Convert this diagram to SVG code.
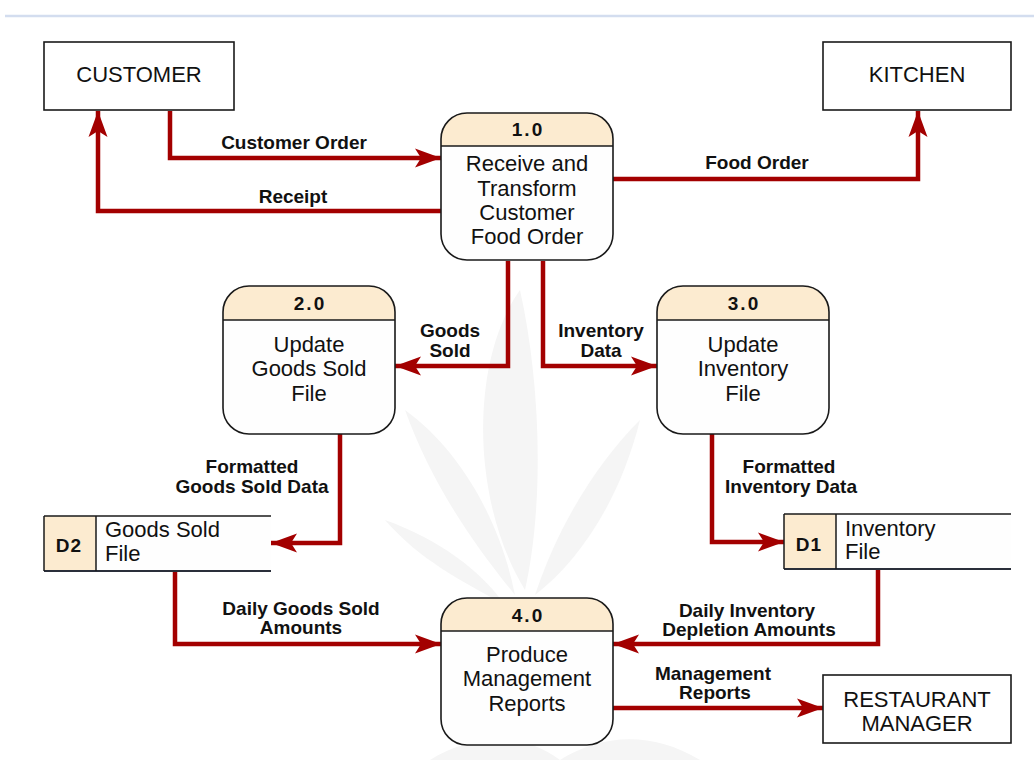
<svg xmlns="http://www.w3.org/2000/svg" width="1034" height="774" viewBox="0 0 1034 774">
<defs>
<style>
.ent{fill:#ffffff;stroke:#1a1a1a;stroke-width:1.6}
.body{fill:#fefefe}
.hdr{fill:#fcebd0}
.outline{fill:none;stroke:#1a1a1a;stroke-width:1.6}
.t{font-family:"Liberation Sans",Arial,sans-serif;font-size:22px;fill:#111}
.num{font-family:"Liberation Sans",Arial,sans-serif;font-size:19px;font-weight:bold;fill:#111;letter-spacing:2px}
.lbl{font-family:"Liberation Sans",Arial,sans-serif;font-size:19px;font-weight:bold;fill:#111;text-anchor:middle}
.c{text-anchor:middle}
.flow{fill:none;stroke:#a30000;stroke-width:4.5;marker-end:url(#ah)}
.leaf{fill:#f5f5f5}
</style>
<marker id="ah" markerUnits="userSpaceOnUse" markerWidth="32" markerHeight="24" refX="28" refY="12" orient="auto">
<path d="M28,12 L2,2.5 L8,12 L2,21.5 Z" fill="#a30000"/>
</marker>
</defs>
<rect width="1034" height="774" fill="#ffffff"/>
<line x1="5" y1="16" x2="1034" y2="16" stroke="#d3ddef" stroke-width="2.5"/>

<g id="watermark">
<path class="leaf" d="M525,590 C470,500 470,360 520,290 C540,380 545,500 525,590 Z"/>
<path class="leaf" d="M515,595 C470,540 430,480 405,410 C460,450 500,520 515,595 Z"/>
<path class="leaf" d="M535,595 C560,520 600,460 640,420 C620,500 580,560 535,595 Z"/>
<path class="leaf" d="M505,605 C460,580 420,560 385,520 C440,540 480,570 505,605 Z"/>
<path class="leaf" d="M430,760 C470,735 520,730 560,760 Z"/>
<path class="leaf" d="M560,760 C600,735 650,730 700,760 Z"/>
</g>

<g id="connectors">
<path class="flow" d="M170,111 V158 H441"/>
<path class="flow" d="M441,211 H98 V111"/>
<path class="flow" d="M613,179 H918 V111"/>
<path class="flow" d="M508,261 V366 H395"/>
<path class="flow" d="M543,261 V366 H657"/>
<path class="flow" d="M340,434 V543 H271"/>
<path class="flow" d="M712,434 V542 H784"/>
<path class="flow" d="M175,571 V644 H441"/>
<path class="flow" d="M878,569 V644 H613"/>
<path class="flow" d="M613,708 H823"/>
<text class="lbl" x="294" y="149">Customer Order</text>
<text class="lbl" x="293" y="203">Receipt</text>
<text class="lbl" x="757" y="169">Food Order</text>
<text class="lbl" x="450" y="337">Goods</text>
<text class="lbl" x="450" y="357">Sold</text>
<text class="lbl" x="601" y="337">Inventory</text>
<text class="lbl" x="601" y="357">Data</text>
<text class="lbl" x="252" y="473">Formatted</text>
<text class="lbl" x="252" y="493">Goods Sold Data</text>
<text class="lbl" x="789" y="473">Formatted</text>
<text class="lbl" x="791" y="493">Inventory Data</text>
<text class="lbl" x="301" y="615">Daily Goods Sold</text>
<text class="lbl" x="301" y="634">Amounts</text>
<text class="lbl" x="747" y="617">Daily Inventory</text>
<text class="lbl" x="749" y="636">Depletion Amounts</text>
<text class="lbl" x="713" y="680">Management</text>
<text class="lbl" x="715" y="699">Reports</text>
</g>

<g id="customer">
<rect class="ent" x="44" y="42" width="190" height="68"/>
<text class="t c" x="139" y="82">CUSTOMER</text>
</g>

<g id="kitchen">
<rect class="ent" x="823" y="42" width="188" height="68"/>
<text class="t c" x="917" y="82">KITCHEN</text>
</g>

<g id="restaurant-manager">
<rect class="ent" x="823" y="675" width="188" height="68"/>
<text class="t c" x="917" y="707">RESTAURANT</text>
<text class="t c" x="917" y="731">MANAGER</text>
</g>

<g id="p1">
<rect class="body" x="441" y="113" width="172" height="147" rx="26"/>
<path class="hdr" d="M441,146 V139 A26,26 0 0 1 467,113 H587 A26,26 0 0 1 613,139 V146 Z"/>
<line x1="441" y1="146" x2="613" y2="146" stroke="#1a1a1a" stroke-width="1.5"/>
<rect class="outline" x="441" y="113" width="172" height="147" rx="26"/>
<text class="num c" x="528" y="136">1.0</text>
<text class="t c" x="527" y="171">Receive and</text>
<text class="t c" x="527" y="196">Transform</text>
<text class="t c" x="527" y="220">Customer</text>
<text class="t c" x="527" y="244">Food Order</text>
</g>

<g id="p2">
<rect class="body" x="223" y="286" width="172" height="148" rx="26"/>
<path class="hdr" d="M223,320 V312 A26,26 0 0 1 249,286 H369 A26,26 0 0 1 395,312 V320 Z"/>
<line x1="223" y1="320" x2="395" y2="320" stroke="#1a1a1a" stroke-width="1.5"/>
<rect class="outline" x="223" y="286" width="172" height="148" rx="26"/>
<text class="num c" x="310" y="310">2.0</text>
<text class="t c" x="309" y="352">Update</text>
<text class="t c" x="309" y="376">Goods Sold</text>
<text class="t c" x="309" y="401">File</text>
</g>

<g id="p3">
<rect class="body" x="657" y="286" width="172" height="148" rx="26"/>
<path class="hdr" d="M657,320 V312 A26,26 0 0 1 683,286 H803 A26,26 0 0 1 829,312 V320 Z"/>
<line x1="657" y1="320" x2="829" y2="320" stroke="#1a1a1a" stroke-width="1.5"/>
<rect class="outline" x="657" y="286" width="172" height="148" rx="26"/>
<text class="num c" x="744" y="310">3.0</text>
<text class="t c" x="743" y="352">Update</text>
<text class="t c" x="743" y="376">Inventory</text>
<text class="t c" x="743" y="401">File</text>
</g>

<g id="p4">
<rect class="body" x="441" y="598" width="172" height="147" rx="26"/>
<path class="hdr" d="M441,631 V624 A26,26 0 0 1 467,598 H587 A26,26 0 0 1 613,624 V631 Z"/>
<line x1="441" y1="631" x2="613" y2="631" stroke="#1a1a1a" stroke-width="1.5"/>
<rect class="outline" x="441" y="598" width="172" height="147" rx="26"/>
<text class="num c" x="528" y="622">4.0</text>
<text class="t c" x="527" y="662">Produce</text>
<text class="t c" x="527" y="686">Management</text>
<text class="t c" x="527" y="711">Reports</text>
</g>

<g id="d2">
<rect x="44" y="516" width="227" height="55" fill="#fefefe"/>
<rect x="44" y="516" width="52" height="55" fill="#fcebd0"/>
<line x1="44" y1="516" x2="271" y2="516" stroke="#1a1a1a" stroke-width="1.5"/>
<line x1="44" y1="571" x2="271" y2="571" stroke="#2a2f3a" stroke-width="2.2"/>
<line x1="44" y1="516" x2="44" y2="571" stroke="#1a1a1a" stroke-width="1.5"/>
<line x1="96" y1="516" x2="96" y2="571" stroke="#1a1a1a" stroke-width="1.5"/>
<text class="num c" x="69" y="552" style="letter-spacing:1px">D2</text>
<text class="t" x="105" y="537">Goods Sold</text>
<text class="t" x="105" y="561">File</text>
</g>

<g id="d1">
<rect x="784" y="514" width="227" height="55" fill="#fefefe"/>
<rect x="784" y="514" width="52" height="55" fill="#fcebd0"/>
<line x1="784" y1="514" x2="1011" y2="514" stroke="#1a1a1a" stroke-width="1.5"/>
<line x1="784" y1="569" x2="1011" y2="569" stroke="#2a2f3a" stroke-width="2.2"/>
<line x1="784" y1="514" x2="784" y2="569" stroke="#1a1a1a" stroke-width="1.5"/>
<line x1="836" y1="514" x2="836" y2="569" stroke="#1a1a1a" stroke-width="1.5"/>
<text class="num c" x="809" y="551" style="letter-spacing:1px">D1</text>
<text class="t" x="845" y="536">Inventory</text>
<text class="t" x="845" y="559">File</text>
</g>
</svg>
